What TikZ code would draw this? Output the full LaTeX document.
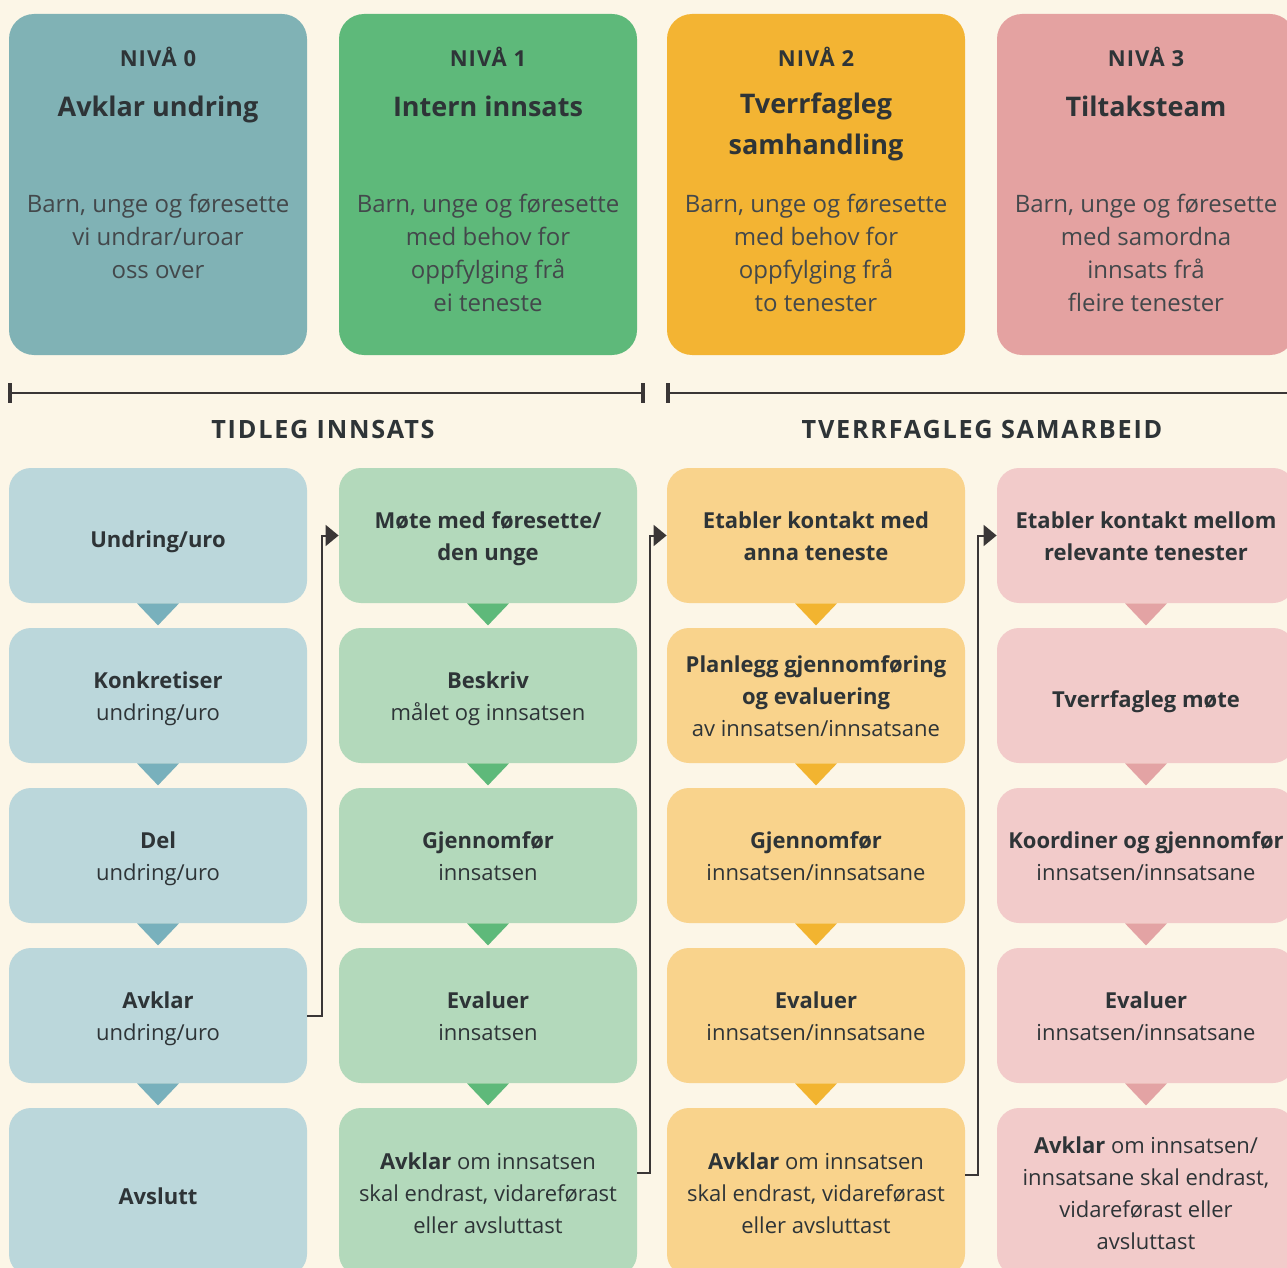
\documentclass[tikz,border=0pt]{standalone}
\usepackage{fontspec}
\setmainfont{Open Sans}
\usetikzlibrary{arrows.meta,calc}

\definecolor{bg}{HTML}{FCF6E7}
\definecolor{ink}{HTML}{2E3437}
\definecolor{wire}{HTML}{3A3636}
% level colours: header fill, step fill, pointer fill
\definecolor{hA}{HTML}{80B2B5}
\definecolor{hB}{HTML}{5EB97A}
\definecolor{hC}{HTML}{F3B433}
\definecolor{hD}{HTML}{E4A2A1}
\definecolor{sA}{HTML}{BBD7DB}
\definecolor{sB}{HTML}{B3D9BB}
\definecolor{sC}{HTML}{F9D38C}
\definecolor{sD}{HTML}{F2CBCA}
\definecolor{tA}{HTML}{78B0BC}
\definecolor{tB}{HTML}{5EB97A}
\definecolor{tC}{HTML}{F2B430}
\definecolor{tD}{HTML}{E3A3A4}

\tikzset{
  struts/.style={execute at begin node=\strut, execute at end node=\strut},
  headbox/.style={rounded corners=12.5pt, minimum width=149pt, minimum height=170.5pt, inner sep=0pt},
  stepbox/.style={rounded corners=11pt, minimum width=149pt, minimum height=67.5pt, inner sep=0pt},
  lastbox/.style={stepbox, minimum height=84pt},
  steptext/.style={struts, inner sep=0pt, align=center, text=ink, font=\fontsize{11}{16}\selectfont},
  levelno/.style={struts, text=ink, font=\bfseries\fontsize{11}{13}\selectfont\addfontfeature{LetterSpace=5}},
  leveltitle/.style={struts, text=ink, align=center, font=\bfseries\fontsize{13.5}{20.5}\selectfont},
  levelbody/.style={struts, text=ink!90, align=center, font=\fontsize{12}{16.5}\selectfont},
  phase/.style={struts, text=ink, font=\bfseries\fontsize{12.6}{15}\selectfont\addfontfeature{LetterSpace=7}},
  bracket/.style={draw=wire, line width=1pt},
  tick/.style={draw=wire, line width=1.6pt},
  link/.style={draw=wire, line width=1pt, -{Triangle[length=6.5pt,width=10.5pt]}},
}

% one step: a filled box (#1) and its text (#1t), set a little low in the box
\newcommand{\stepcell}[5]{%
  \node[#2, fill=#3] (#1) at #4 {};
  \node[steptext] (#1t) at ([yshift=-2.8pt]#1.center) {#5};
}

\begin{document}
\begin{tikzpicture}[x=0.5pt, y=-0.5pt]
\useasboundingbox (0,0) rectangle (1287,1268);
\fill[bg] (0,0) rectangle (1287,1268);
\clip (0,0) rectangle (1287,1268);

% ---- level headers ----
\node[headbox, fill=hA] (h0) at (158,184.5) {};
\node[headbox, fill=hB] (h1) at (488,184.5) {};
\node[headbox, fill=hC] (h2) at (816,184.5) {};
\node[headbox, fill=hD] (h3) at (1146,184.5) {};

\node[levelno] (n0) at (158,61) {NIVÅ 0};
\node[levelno] (n1) at (488,61) {NIVÅ 1};
\node[levelno] (n2) at (816,61) {NIVÅ 2};
\node[levelno] (n3) at (1146,61) {NIVÅ 3};

\node[leveltitle] (t0) at (158,108) {Avklar undring};
\node[leveltitle] (t1) at (488,108) {Intern innsats};
\node[leveltitle] (t2) at (816,129.5) {Tverrfagleg\\samhandling};
\node[leveltitle] (t3) at (1146,108) {Tiltaksteam};

\node[levelbody] (b0) at (158,241) {Barn, unge og føresette\\vi undrar/uroar\\oss over};
\node[levelbody] (b1) at (488,257.5) {Barn, unge og føresette\\med behov for\\oppfylging frå\\ei teneste};
\node[levelbody] (b2) at (816,257.5) {Barn, unge og føresette\\med behov for\\oppfylging frå\\to tenester};
\node[levelbody] (b3) at (1146,257.5) {Barn, unge og føresette\\med samordna\\innsats frå\\fleire tenester};

% ---- phase brackets ----
\coordinate (pl0) at (10,393);
\coordinate (pl1) at (643,393);
\coordinate (pr0) at (668,393);
\coordinate (pr1) at (1300,393);
\draw[bracket] (pl0) -- (pl1);
\draw[bracket] (pr0) -- (pr1);
\draw[tick] ($(pl0)+(0,-10)$) -- ($(pl0)+(0,10)$);
\draw[tick] ($(pl1)+(0,-10)$) -- ($(pl1)+(0,10)$);
\draw[tick] ($(pr0)+(0,-10)$) -- ($(pr0)+(0,10)$);

\node[phase] (p0) at (323,432) {TIDLEG INNSATS};
\node[phase] (p1) at (982,432) {TVERRFAGLEG SAMARBEID};

% ---- steps, level 0 ----
\stepcell{s01}{stepbox}{sA}{(158,535.5)}{\textbf{Undring/uro}}
\stepcell{s02}{stepbox}{sA}{(158,695.5)}{\textbf{Konkretiser}\\undring/uro}
\stepcell{s03}{stepbox}{sA}{(158,855.5)}{\textbf{Del}\\undring/uro}
\stepcell{s04}{stepbox}{sA}{(158,1015.5)}{\textbf{Avklar}\\undring/uro}
\stepcell{s05}{lastbox}{sA}{(158,1192)}{\textbf{Avslutt}}

% ---- steps, level 1 ----
\stepcell{s11}{stepbox}{sB}{(488,535.5)}{\textbf{Møte med føresette/}\\\textbf{den unge}}
\stepcell{s12}{stepbox}{sB}{(488,695.5)}{\textbf{Beskriv}\\målet og innsatsen}
\stepcell{s13}{stepbox}{sB}{(488,855.5)}{\textbf{Gjennomfør}\\innsatsen}
\stepcell{s14}{stepbox}{sB}{(488,1015.5)}{\textbf{Evaluer}\\innsatsen}
\stepcell{s15}{lastbox}{sB}{(488,1192)}{\textbf{Avklar} om innsatsen\\skal endrast, vidareførast\\eller avsluttast}

% ---- steps, level 2 ----
\stepcell{s21}{stepbox}{sC}{(816,535.5)}{\textbf{Etabler kontakt med}\\\textbf{anna teneste}}
\stepcell{s22}{stepbox}{sC}{(816,695.5)}{\textbf{Planlegg gjennomføring}\\\textbf{og evaluering}\\av innsatsen/innsatsane}
\stepcell{s23}{stepbox}{sC}{(816,855.5)}{\textbf{Gjennomfør}\\innsatsen/innsatsane}
\stepcell{s24}{stepbox}{sC}{(816,1015.5)}{\textbf{Evaluer}\\innsatsen/innsatsane}
\stepcell{s25}{lastbox}{sC}{(816,1192)}{\textbf{Avklar} om innsatsen\\skal endrast, vidareførast\\eller avsluttast}

% ---- steps, level 3 ----
\stepcell{s31}{stepbox}{sD}{(1146,535.5)}{\textbf{Etabler kontakt mellom}\\\textbf{relevante tenester}}
\stepcell{s32}{stepbox}{sD}{(1146,695.5)}{\textbf{Tverrfagleg møte}}
\stepcell{s33}{stepbox}{sD}{(1146,855.5)}{\textbf{Koordiner og gjennomfør}\\innsatsen/innsatsane}
\stepcell{s34}{stepbox}{sD}{(1146,1015.5)}{\textbf{Evaluer}\\innsatsen/innsatsane}
\stepcell{s35}{lastbox}{sD}{(1146,1192)}{\textbf{Avklar} om innsatsen/\\innsatsane skal endrast,\\vidareførast eller\\avsluttast}

% ---- pointers between consecutive steps ----
\foreach \c/\t in {0/tA,1/tB,2/tC,3/tD}{
  \foreach \r in {1,...,4}{
    \fill[\t] ($(s\c\r.south)+(-21,0)$) -- ($(s\c\r.south)+(21,0)$) -- ($(s\c\r.south)+(0,22)$) -- cycle;
  }
}

% ---- hand-over from one level to the next ----
\draw[link] (s04.east) -- ++(15,0) |- (s11.west);
\draw[link] ([yshift=9.5pt]s15.east) -- ++(13,0) |- (s21.west);
\draw[link] ([yshift=8.5pt]s25.east) -- ++(13,0) |- (s31.west);
\end{tikzpicture}
\end{document}
